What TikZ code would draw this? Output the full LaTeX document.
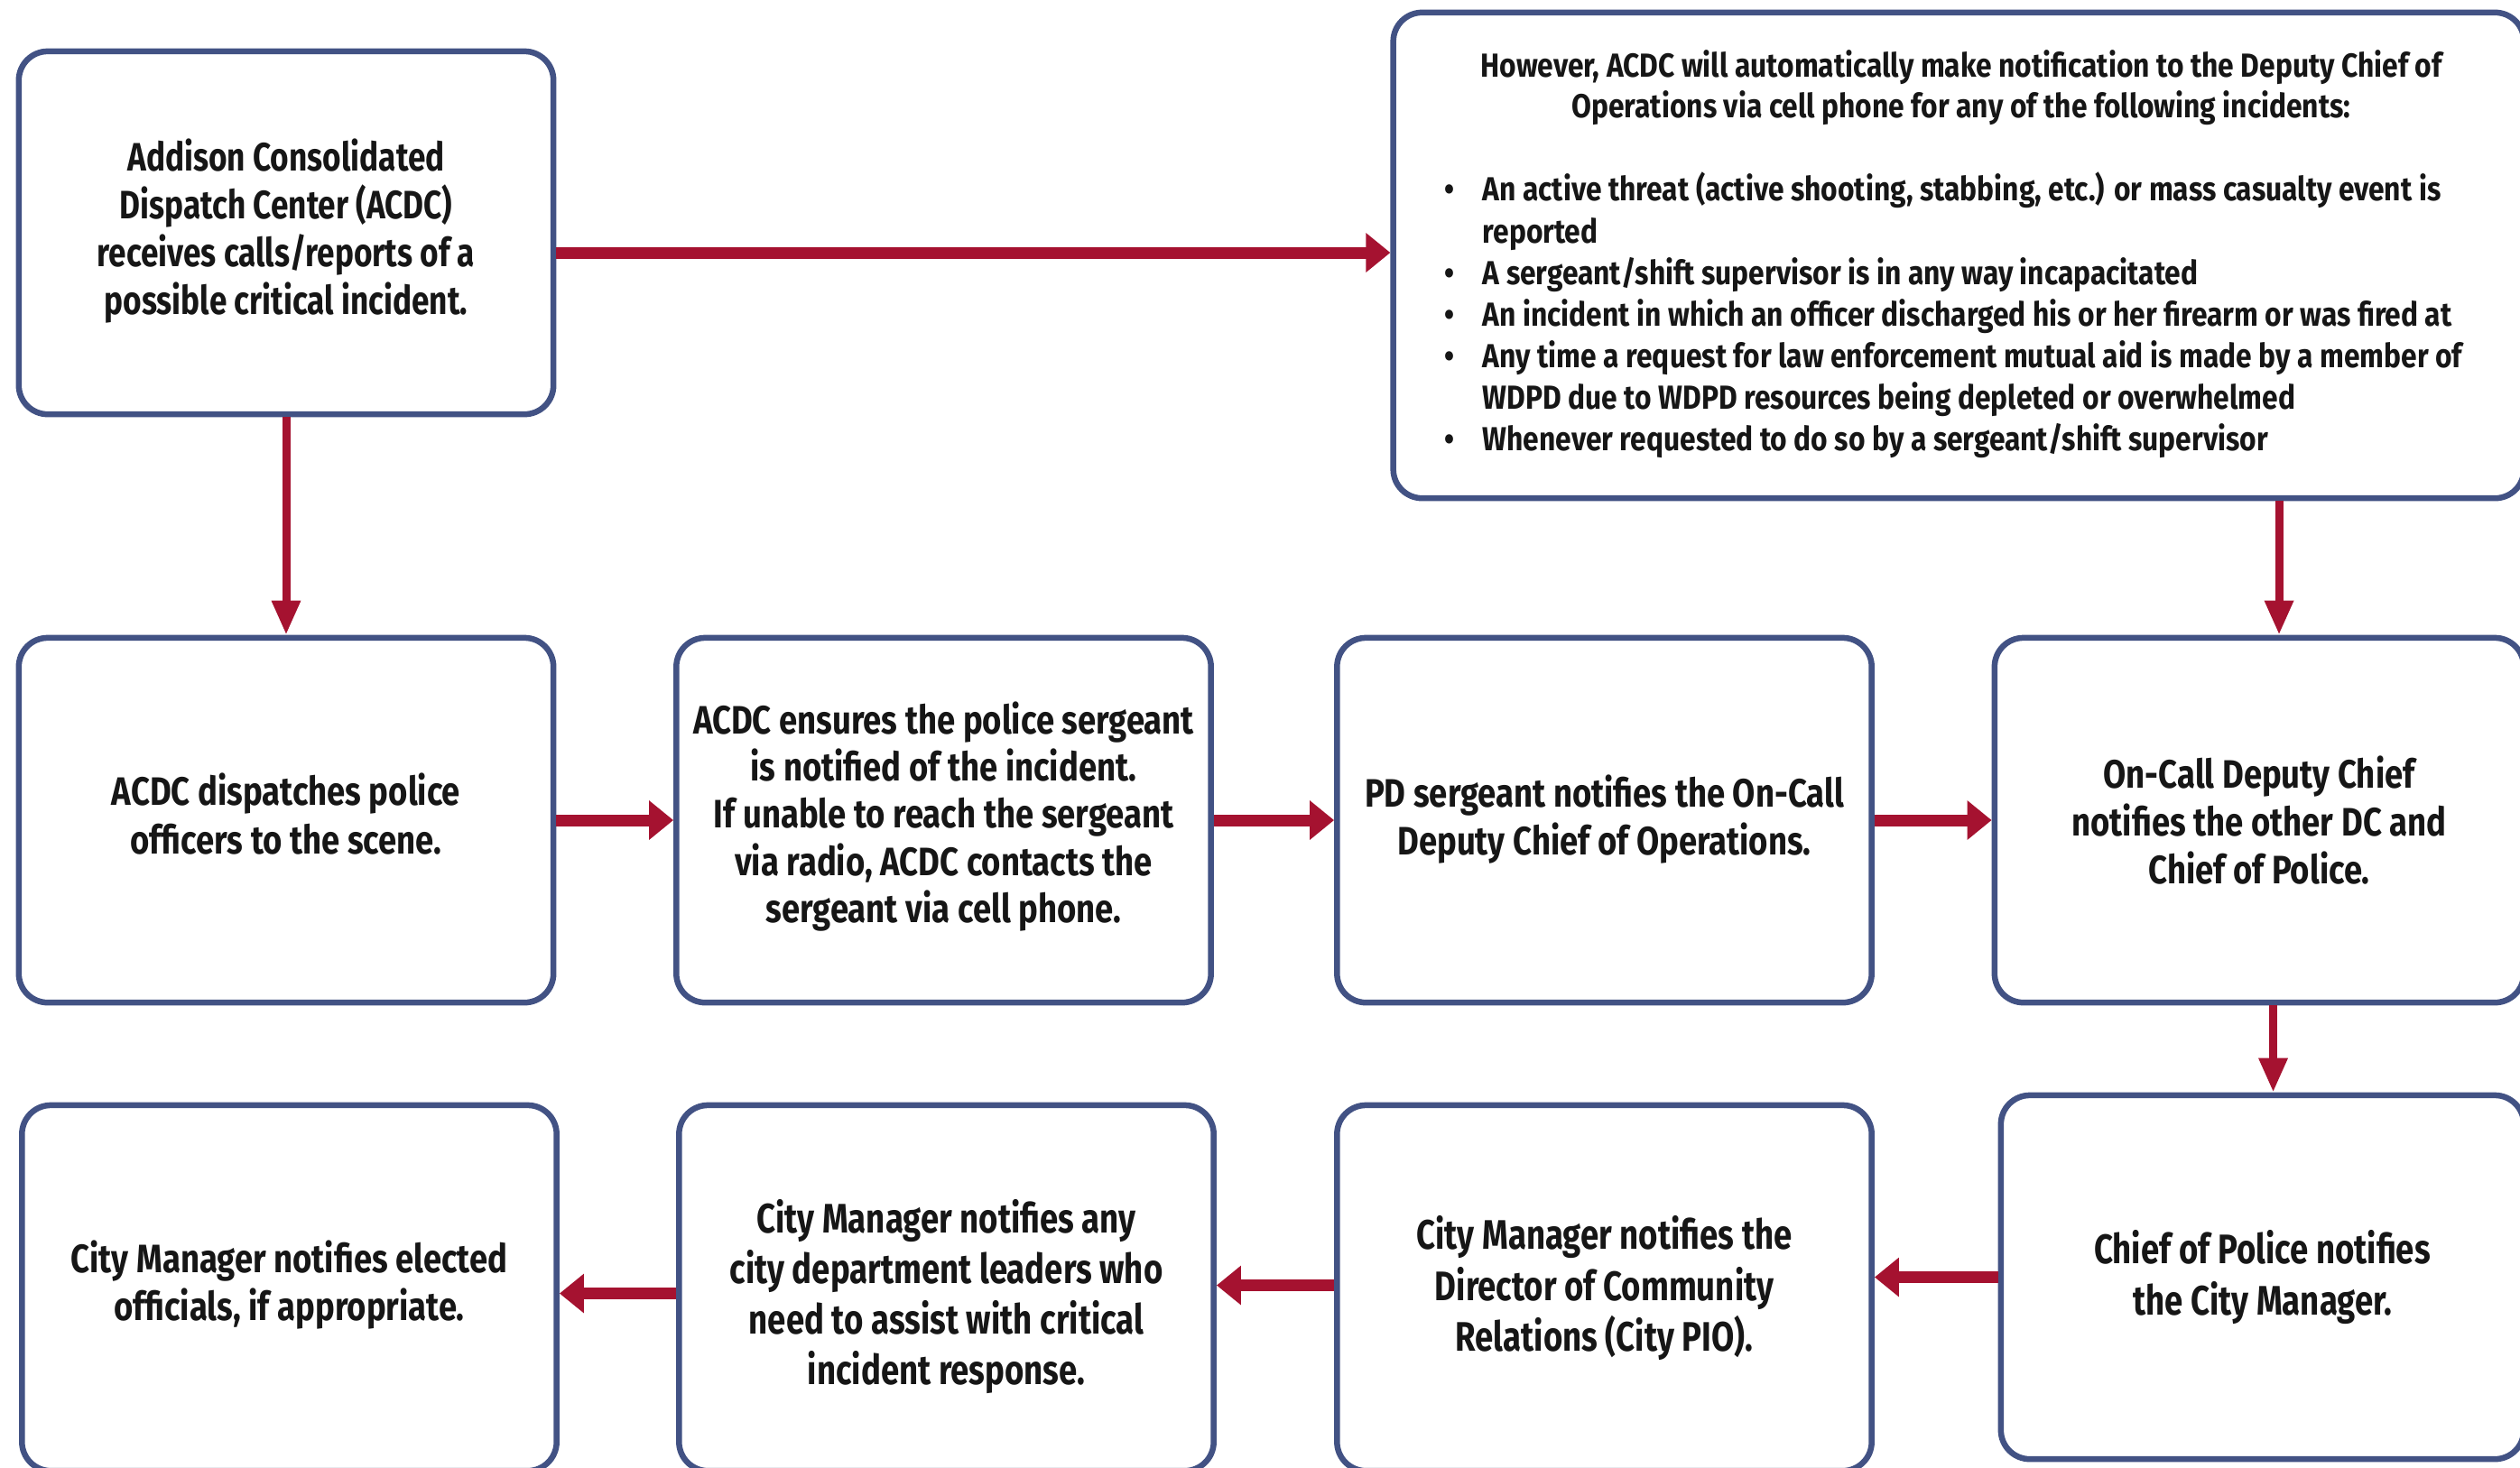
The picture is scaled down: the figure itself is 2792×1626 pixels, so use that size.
\documentclass[tikz,border=0pt]{standalone}
\usepackage{fontspec}
\setmainfont{Fira Sans}[FakeStretch=0.83]
\newfontfamily\bfontfam{Fira Sans}[FakeStretch=0.86]
\newfontfamily\hfontfam{Fira Sans}[FakeStretch=0.8]
\usetikzlibrary{arrows.meta}
\definecolor{boxblue}{RGB}{66,82,132}
\definecolor{arrred}{RGB}{165,18,48}
\definecolor{txt}{RGB}{22,22,22}
\begin{document}
\begin{tikzpicture}[x=0.01cm,y=-0.01cm,
  stepbox/.style={draw=boxblue, line width=0.065cm, rounded corners=0.32cm, fill=white,
    minimum width=5.92cm, minimum height=4.04cm, inner sep=0pt},
  steptext/.style={align=center, inner sep=0pt, text=txt,
    font=\bfseries\fontsize{12.5}{15.1}\selectfont},
  bigtext/.style={align=center, inner sep=0pt, text=txt,
    font=\hfontfam\bfseries\fontsize{13}{16}\selectfont},
  harr/.style={draw=arrred, line width=0.13cm, -{Triangle[width=0.42cm,length=0.27cm]}},
  varr/.style={draw=arrred, line width=0.09cm, -{Triangle[width=0.3cm,length=0.38cm]}}]
\useasboundingbox (0,0) rectangle (2792,1626);
\fill[white] (0,0) rectangle (2792,1626);
\clip (0,0) rectangle (2792,1626);

% boxes
\node[stepbox, minimum height=4.02cm] (A) at (317,258) {};
\node[stepbox, minimum width=12.52cm, minimum height=5.38cm] (B) at (2170,283) {};
\node[stepbox] (C) at (317,909) {};
\node[stepbox] (D) at (1045.5,909) {};
\node[stepbox] (E) at (1777.5,909) {};
\node[stepbox, minimum width=5.86cm] (F) at (2503,909) {};
\node[stepbox, minimum height=4.05cm] (G) at (320.5,1427.5) {};
\node[stepbox, minimum height=4.05cm] (H) at (1048.5,1427.5) {};
\node[stepbox, minimum height=4.05cm] (I) at (1777.5,1427.5) {};
\node[stepbox, minimum width=5.79cm, minimum height=4.03cm] (J) at (2506.5,1415.5) {};

% texts
\node[steptext, font=\hfontfam\bfseries\fontsize{12.5}{15.1}\selectfont] (At) at (317,256)
  {Addison Consolidated\\Dispatch Center (ACDC)\\receives calls/reports of a\\possible critical incident.};
\node[text=txt, align=center, inner sep=0pt, font=\bfontfam\bfseries\fontsize{10.5}{12.6}\selectfont] (Bhead) at (2173,97)
  {However, ACDC will automatically make notification to the Deputy Chief of\\Operations via cell phone for any of the following incidents:};
\node[text=txt, anchor=north west, inner sep=0pt, font=\bfontfam\bfseries\fontsize{10.5}{13.1}\selectfont] (Blist) at (1600,190)
  {\begin{tabular}{@{}p{0.42cm}@{}l@{}}
   \textbullet & An active threat (active shooting, stabbing, etc.) or mass casualty event is\\
   & reported\\
   \textbullet & A sergeant/shift supervisor is in any way incapacitated\\
   \textbullet & An incident in which an officer discharged his or her firearm or was fired at\\
   \textbullet & Any time a request for law enforcement mutual aid is made by a member of\\
   & WDPD due to WDPD resources being depleted or overwhelmed\\
   \textbullet & Whenever requested to do so by a sergeant/shift supervisor
   \end{tabular}};
\node[steptext] (Ct) at (317,902) {ACDC dispatches police\\officers to the scene.};
\node[steptext, font=\bfseries\fontsize{12.5}{14.9}\selectfont] (Dt) at (1045.5,905) {ACDC ensures the police sergeant\\is notified of the incident.\\If unable to reach the sergeant\\via radio, ACDC contacts the\\sergeant via cell phone.};
\node[steptext] (Et) at (1777.5,908) {PD sergeant notifies the On-Call\\Deputy Chief of Operations.};
\node[steptext] (Ft) at (2503,909) {On-Call Deputy Chief\\notifies the other DC and\\Chief of Police.};
\node[steptext] (Gt) at (320.5,1424) {City Manager notifies elected\\officials, if appropriate.};
\node[bigtext] (Ht) at (1048.5,1437) {City Manager notifies any\\city department leaders who\\need to assist with critical\\incident response.};
\node[bigtext] (It) at (1777.5,1427.5) {City Manager notifies the\\Director of Community\\Relations (City PIO).};
\node[bigtext] (Jt) at (2506.5,1415.5) {Chief of Police notifies\\the City Manager.};

% connectors
\draw[harr] ([yshift=-0.22cm]A.east) -- ([yshift=-0.22cm]A.east -| B.west);
\draw[varr] (A.south) -- (C.north);
\draw[harr] (C.east) -- (D.west);
\draw[harr] (D.east) -- (E.west);
\draw[harr] (E.east) -- (F.west);
\coordinate (fn) at ([xshift=0.22cm]F.north);
\draw[varr] (B.south -| fn) -- (fn);
\coordinate (jn) at ([xshift=0.12cm]J.north);
\draw[varr] (F.south -| jn) -- (jn);
\draw[harr] (J.west) -- (J.west -| I.east);
\draw[harr] ([yshift=0.03cm]I.west) -- ([yshift=0.03cm]I.west -| H.east);
\draw[harr] ([yshift=-0.06cm]H.west) -- ([yshift=-0.06cm]H.west -| G.east);
\end{tikzpicture}
\end{document}
